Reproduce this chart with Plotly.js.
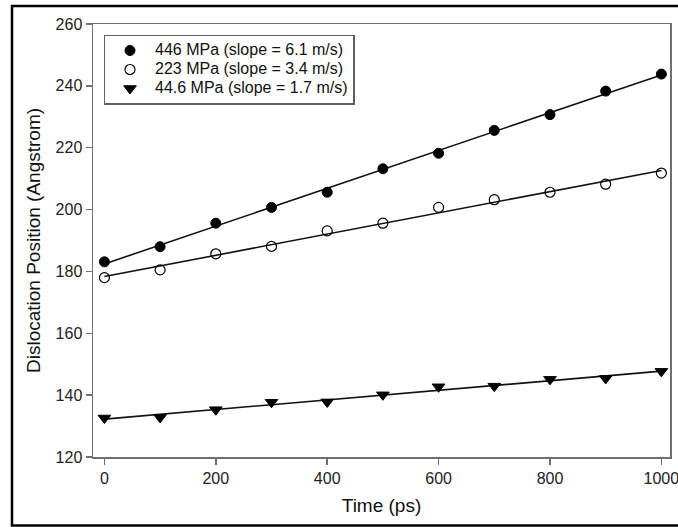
<!DOCTYPE html>
<html>
<head>
<meta charset="utf-8">
<script src="https://cdn.plot.ly/plotly-3.0.1.min.js"></script>
<style>
  html, body { margin: 0; padding: 0; background: #fff; }
  #chart { width: 678px; height: 527px; }
</style>
</head>
<body>
<div id="chart"></div>
<script>
// ---- data ----
const timePs = [0, 100, 200, 300, 400, 500, 600, 700, 800, 900, 1000];
const pos446 = [183.1, 188.0, 195.6, 200.7, 205.6, 213.2, 218.2, 225.6, 230.7, 238.3, 243.8];
const pos223 = [178.0, 180.5, 185.7, 188.1, 193.1, 195.6, 200.7, 203.2, 205.6, 208.2, 211.8];
const pos44 = [132.6, 132.8, 135.3, 137.7, 137.8, 140.1, 142.7, 142.9, 145.1, 145.4, 147.7];
const seriesNames = [
  "446 MPa (slope = 6.1 m/s)",
  "223 MPa (slope = 3.4 m/s)",
  "44.6 MPa (slope = 1.7 m/s)"
];
const xTicks = [0, 200, 400, 600, 800, 1000];
const yTicks = [120, 140, 160, 180, 200, 220, 240, 260];

// least-squares fit line through each series
function fit(xs, ys) {
  const n = xs.length;
  const mx = xs.reduce((a, b) => a + b, 0) / n;
  const my = ys.reduce((a, b) => a + b, 0) / n;
  let sxy = 0, sxx = 0;
  for (let i = 0; i < n; i++) { sxy += (xs[i] - mx) * (ys[i] - my); sxx += (xs[i] - mx) ** 2; }
  const b = sxy / sxx, a = my - b * mx;
  return xs.map(x => a + b * x);
}

const FONT = '"Liberation Sans", Arial, sans-serif';
const lineStyle = { color: '#111', width: 1.6 };

const series = [
  { y: pos446, name: seriesNames[0], marker: { symbol: 'circle', size: 10, color: '#000', line: { color: '#000', width: 1 } } },
  { y: pos223, name: seriesNames[1], marker: { symbol: 'circle-open', size: 10, color: '#000', line: { color: '#000', width: 1.2 } } },
  { y: pos44, name: seriesNames[2], marker: { symbol: 'triangle-down', size: 11, color: '#000', line: { color: '#000', width: 1 } } }
];

const traces = [];
series.forEach(s => {
  traces.push({ x: timePs, y: fit(timePs, s.y), mode: 'lines', line: lineStyle, showlegend: false, hoverinfo: 'skip' });
});
series.forEach(s => {
  traces.push({
    x: timePs, y: s.y, mode: 'markers',
    name: '<span style="font-size:16px">' + s.name + '</span>',
    marker: s.marker
  });
});

const W = 678, H = 527;
const M = { l: 93, r: 8, t: 24, b: 70 };
const pw = W - M.l - M.r, ph = H - M.t - M.b;
const px = v => (v - M.l) / pw;           // pixel -> paper x
const py = v => (H - M.b - v) / ph;       // pixel -> paper y

const axisCommon = {
  showline: true, mirror: true, linecolor: '#707070', linewidth: 1.5,
  ticks: 'outside', ticklen: 6, tickwidth: 1.5, tickcolor: '#707070',
  showgrid: false, zeroline: false,
  ticklabeloverflow: 'allow',
  tickfont: { family: FONT, size: 16, color: '#222' }
};

const layout = {
  width: W, height: H,
  margin: M,
  paper_bgcolor: '#fff', plot_bgcolor: '#fff',
  font: { family: FONT, color: '#111' },
  showlegend: true,
  legend: {
    x: px(103.5), y: py(34.5), xanchor: 'left', yanchor: 'top',
    bgcolor: '#fff', bordercolor: '#606060', borderwidth: 1.5,
    font: { family: FONT, size: 12, color: '#111' },
    itemwidth: 40, tracegroupgap: 0
  },
  xaxis: Object.assign({}, axisCommon, {
    automargin: 'bottom',
    range: [-20.5, 1015.5], tickvals: xTicks, ticktext: xTicks.map(String),
    title: { text: 'Time (ps)', font: { family: FONT, size: 19, color: '#111' }, standoff: 13 }
  }),
  yaxis: Object.assign({}, axisCommon, {
    automargin: 'left',
    range: [120, 260], tickvals: yTicks, ticktext: yTicks.map(String),
    title: { text: 'Dislocation Position (Angstrom)', font: { family: FONT, size: 19, color: '#111' }, standoff: 10 }
  }),
  shapes: [{
    type: 'rect', xref: 'paper', yref: 'paper',
    x0: px(12), x1: px(720), y0: py(525.5), y1: py(6),
    line: { color: '#000', width: 2.5 }, fillcolor: 'rgba(0,0,0,0)', layer: 'above'
  }]
};

Plotly.newPlot('chart', traces, layout, { displayModeBar: false, staticPlot: true });
</script>
</body>
</html>
